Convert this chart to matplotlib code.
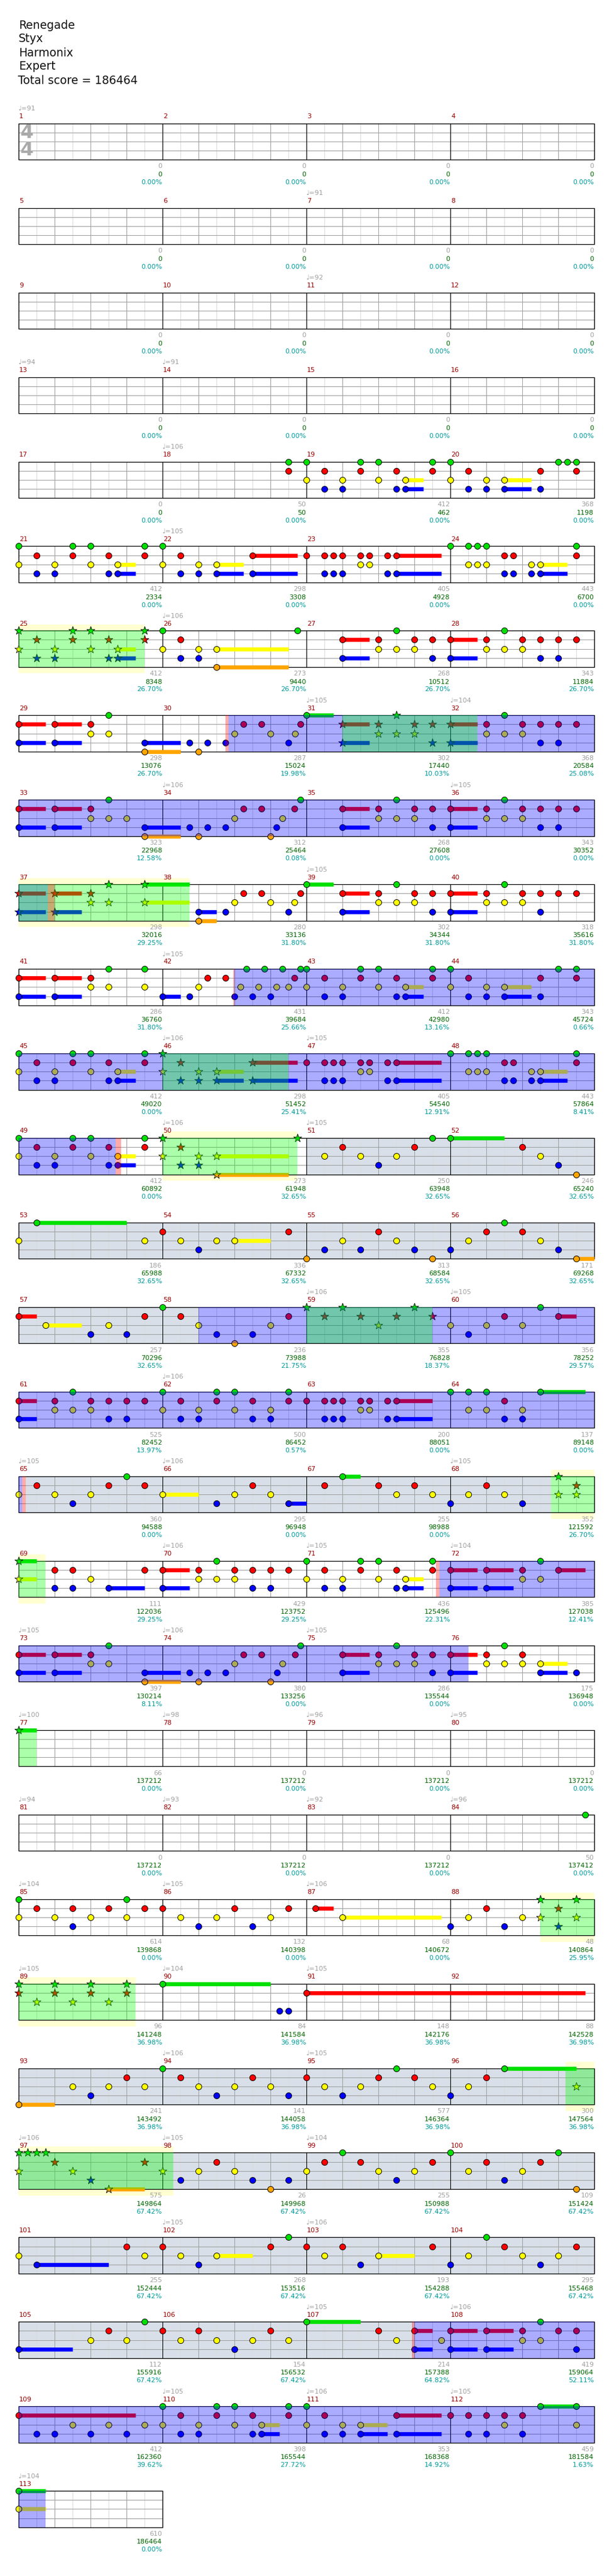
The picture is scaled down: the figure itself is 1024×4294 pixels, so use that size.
import matplotlib
matplotlib.use("Agg")
import matplotlib.pyplot as plt
from matplotlib.patches import Rectangle

plt.rcParams['font.family'] = ['DejaVu Sans']

# ---------------- data ----------------
SONG_INFO = ["Renegade", "Styx", "Harmonix", "Expert"]
TOTAL_SCORE = 186464
NUM_MEASURES = 113

TEMPO_MEASURE = [1, 7, 11, 13, 14, 18, 22, 26, 31, 32, 34, 36, 39, 42, 46, 47, 50, 51,
                 59, 60, 62, 65, 66, 68, 70, 71, 72, 73, 74, 75, 77, 78, 79, 80, 81,
                 82, 83, 84, 85, 86, 87, 89, 90, 91, 94, 95, 97, 98, 99, 102, 103,
                 107, 108, 110, 111, 112, 113]
TEMPO_BPM = [91, 91, 92, 94, 91, 106, 105, 106, 105, 104, 106, 105, 105, 105, 106, 105,
             106, 105, 106, 105, 106, 105, 106, 105, 106, 105, 104, 105, 106, 105, 100,
             98, 96, 95, 94, 93, 92, 96, 104, 105, 106, 105, 104, 105, 106, 105, 106,
             105, 104, 105, 106, 105, 106, 105, 106, 105, 104]

# notes: (measure, beat, lanes, sustain in beats)
NOTES_17_20 = [
    (18, 3.5, "GR", 0),
    (19, 0, "GY", 0), (19, 0.5, "RB", 0), (19, 1, "YB", 0), (19, 1.5, "GR", 0),
    (19, 2, "GY", 0), (19, 2.5, "RB", 0), (19, 2.75, "YB", 0.5), (19, 3.5, "GR", 0),
    (20, 0, "GY", 0), (20, 0.5, "RB", 0), (20, 1, "YB", 0), (20, 1.5, "YB", 0.75),
    (20, 2.5, "RB", 0), (20, 3, "G", 0), (20, 3.25, "G", 0), (20, 3.5, "GR", 0),
]
NOTES_21_24 = [
    (21, 0, "GY", 0), (21, 0.5, "RB", 0), (21, 1, "YB", 0), (21, 1.5, "GR", 0),
    (21, 2, "GY", 0), (21, 2.5, "RB", 0), (21, 2.75, "YB", 0.5), (21, 3.5, "GR", 0),
    (22, 0, "GY", 0), (22, 0.5, "RB", 0), (22, 1, "YB", 0), (22, 1.5, "YB", 0.75),
    (22, 2.5, "RB", 1.25),
    (23, 0, "R", 0), (23, 0.5, "RB", 0), (23, 0.75, "RB", 0), (23, 1, "RB", 0),
    (23, 1.5, "RY", 0), (23, 1.75, "RY", 0), (23, 2.25, "RB", 0), (23, 2.5, "RB", 1.25),
    (24, 0, "G", 0), (24, 0.5, "GY", 0), (24, 0.75, "GY", 0), (24, 1, "GY", 0),
    (24, 1.5, "RB", 0), (24, 1.75, "RB", 0), (24, 2.25, "YB", 0), (24, 2.5, "YB", 0.75),
    (24, 3.5, "GR", 0),
]
NOTES_25_28 = [
    (25, 0, "GY", 0), (25, 0.5, "RB", 0), (25, 1, "YB", 0), (25, 1.5, "GR", 0),
    (25, 2, "GY", 0), (25, 2.5, "RB", 0), (25, 2.75, "YB", 0.5), (25, 3.5, "GR", 0),
    (26, 0, "GY", 0), (26, 0.5, "RB", 0), (26, 1, "YB", 0), (26, 1.5, "YO", 2.0),
    (26, 3.75, "G", 0),
    (27, 1, "RB", 0.75), (27, 2, "RY", 0), (27, 2.5, "GY", 0), (27, 3, "RY", 0),
    (27, 3.5, "RB", 0),
    (28, 0, "RB", 0.75), (28, 1, "RY", 0), (28, 1.5, "GY", 0), (28, 2, "RY", 0),
    (28, 2.5, "RB", 0), (28, 3, "RB", 0), (28, 3.5, "R", 0),
]
NOTES_29_32 = [
    (29, 0, "RB", 0.75), (29, 1, "RB", 0.75), (29, 2, "RY", 0), (29, 2.5, "GY", 0),
    (29, 3.5, "BO", 1.0),
    (30, 0.75, "B", 0), (30, 1, "O", 0), (30, 1.25, "B", 0), (30, 1.75, "B", 0),
    (30, 2, "Y", 0), (30, 2.25, "R", 0), (30, 2.75, "R", 0), (30, 3, "Y", 0),
    (30, 3.5, "B", 0), (30, 3.67, "Y", 0), (30, 3.83, "R", 0),
    (31, 0, "G", 0.75), (31, 1, "RB", 0.75), (31, 2, "RY", 0), (31, 2.5, "GY", 0),
    (31, 3, "RY", 0), (31, 3.5, "RB", 0),
    (32, 0, "RB", 0.75), (32, 1, "RY", 0), (32, 1.5, "GY", 0), (32, 2, "RY", 0),
    (32, 2.5, "RB", 0), (32, 3, "RB", 0), (32, 3.5, "R", 0),
]
NOTES_33_36 = [
    (33, 0, "RB", 0.75), (33, 1, "RB", 0.75), (33, 2, "RY", 0), (33, 2.5, "GY", 0),
    (33, 3, "Y", 0), (33, 3.5, "BO", 1.0),
    (34, 0.75, "B", 0), (34, 1, "O", 0), (34, 1.25, "B", 0), (34, 1.75, "B", 0),
    (34, 2, "Y", 0), (34, 2.25, "R", 0), (34, 2.75, "R", 0), (34, 3, "O", 0),
    (34, 3.17, "B", 0), (34, 3.33, "Y", 0), (34, 3.67, "R", 0), (34, 3.83, "G", 0),
    (35, 1, "RB", 0.75), (35, 2, "RY", 0), (35, 2.5, "GY", 0), (35, 3, "RY", 0),
    (35, 3.5, "RB", 0),
    (36, 0, "RB", 0.75), (36, 1, "RY", 0), (36, 1.5, "GY", 0), (36, 2, "RY", 0),
    (36, 2.5, "RB", 0), (36, 3, "RB", 0), (36, 3.5, "R", 0),
]
NOTES_37_40 = [
    (37, 0, "RB", 0.75), (37, 1, "RB", 0.75), (37, 2, "RY", 0), (37, 2.5, "GY", 0),
    (37, 3.5, "GY", 1.25),
    (38, 1, "BO", 0.5), (38, 1.75, "B", 0), (38, 2, "Y", 0), (38, 2.25, "R", 0),
    (38, 2.75, "R", 0), (38, 3, "Y", 0), (38, 3.5, "B", 0), (38, 3.67, "Y", 0),
    (38, 3.83, "R", 0),
    (39, 0, "G", 0.75), (39, 1, "RB", 0.75), (39, 2, "RY", 0), (39, 2.5, "GY", 0),
    (39, 3, "RY", 0), (39, 3.5, "RB", 0),
    (40, 0, "RB", 0.75), (40, 1, "RY", 0), (40, 1.5, "GY", 0), (40, 2, "RY", 0),
    (40, 2.5, "RB", 0), (40, 3, "R", 0), (40, 3.5, "R", 0),
]
NOTES_41_44 = [
    (41, 0, "RB", 0.75), (41, 1, "RB", 0.75), (41, 2, "RY", 0), (41, 2.5, "GY", 0),
    (41, 3.5, "GY", 0),
    (42, 0, "B", 0.5), (42, 0.75, "B", 0), (42, 1, "Y", 0), (42, 1.25, "R", 0),
    (42, 1.75, "R", 0), (42, 2, "B", 0), (42, 2.17, "Y", 0), (42, 2.33, "G", 0),
    (42, 2.5, "B", 0), (42, 2.67, "Y", 0), (42, 2.83, "G", 0), (42, 3, "B", 0),
    (42, 3.17, "Y", 0), (42, 3.33, "G", 0), (42, 3.5, "Y", 0), (42, 3.67, "R", 0),
    (42, 3.83, "G", 0),
    (43, 0, "GY", 0), (43, 0.5, "RB", 0), (43, 1, "YB", 0), (43, 1.5, "GR", 0),
    (43, 2, "GY", 0), (43, 2.5, "RB", 0), (43, 2.75, "YB", 0.5), (43, 3.5, "GR", 0),
    (44, 0, "GY", 0), (44, 0.5, "RB", 0), (44, 1, "YB", 0), (44, 1.5, "YB", 0.75),
    (44, 2.5, "RB", 0), (44, 3, "G", 0), (44, 3.5, "GR", 0),
]
NOTES_45_48 = [
    (45, 0, "GY", 0), (45, 0.5, "RB", 0), (45, 1, "YB", 0), (45, 1.5, "GR", 0),
    (45, 2, "GY", 0), (45, 2.5, "RB", 0), (45, 2.75, "YB", 0.5), (45, 3.5, "GR", 0),
    (46, 0, "GY", 0), (46, 0.5, "RB", 0), (46, 1, "YB", 0), (46, 1.5, "YB", 0.75),
    (46, 2.5, "RB", 1.25),
    (47, 0, "R", 0), (47, 0.5, "RB", 0), (47, 0.75, "RB", 0), (47, 1, "RB", 0),
    (47, 1.5, "RY", 0), (47, 1.75, "RY", 0), (47, 2.25, "RB", 0), (47, 2.5, "RB", 1.25),
    (48, 0, "G", 0), (48, 0.5, "GY", 0), (48, 0.75, "GY", 0), (48, 1, "GY", 0),
    (48, 1.5, "RB", 0), (48, 1.75, "RB", 0), (48, 2.25, "YB", 0), (48, 2.5, "YB", 0.75),
    (48, 3.5, "GR", 0),
]
NOTES_49_52 = [
    (49, 0, "GY", 0), (49, 0.5, "RB", 0), (49, 1, "YB", 0), (49, 1.5, "GR", 0),
    (49, 2, "GY", 0), (49, 2.5, "RB", 0), (49, 2.75, "YB", 0.5), (49, 3.5, "GR", 0),
    (50, 0, "GY", 0), (50, 0.5, "RB", 0), (50, 1, "YB", 0), (50, 1.5, "YO", 2.0),
    (50, 3.75, "G", 0),
    (51, 0.5, "Y", 0), (51, 1, "R", 0), (51, 1.5, "Y", 0), (51, 2, "B", 0),
    (51, 2.5, "Y", 0), (51, 3, "R", 0), (51, 3.5, "G", 0),
    (52, 0, "G", 1.5), (52, 2, "R", 0), (52, 2.5, "Y", 0), (52, 3, "B", 0),
    (52, 3.5, "O", 0),
]
NOTES_53_56 = [
    (53, 0, "Y", 0), (53, 0.5, "G", 2.5), (53, 3.5, "Y", 0),
    (54, 0, "R", 0), (54, 0.5, "Y", 0), (54, 1, "B", 0), (54, 1.5, "Y", 0),
    (54, 2, "Y", 1.0), (54, 3.5, "R", 0),
    (55, 0, "O", 0), (55, 0.5, "B", 0), (55, 1, "Y", 0), (55, 1.5, "B", 0),
    (55, 2, "R", 0), (55, 2.5, "Y", 0), (55, 3, "B", 0), (55, 3.5, "O", 0),
    (56, 0, "B", 0), (56, 0.5, "Y", 0), (56, 1, "R", 0), (56, 1.5, "G", 0),
    (56, 2, "R", 0), (56, 2.5, "Y", 0), (56, 3, "B", 0), (56, 3.5, "O", 0.5),
]
NOTES_57_60 = [
    (57, 0, "R", 0.5), (57, 0.75, "Y", 1.0), (57, 2, "B", 0), (57, 2.5, "Y", 0),
    (57, 3, "B", 0), (57, 3.5, "R", 0),
    (58, 0, "G", 0), (58, 0.5, "R", 0), (58, 1, "Y", 0), (58, 1.5, "B", 0),
    (58, 2, "O", 0), (58, 2.5, "B", 0), (58, 3, "Y", 0), (58, 3.5, "R", 0),
    (59, 0, "G", 0), (59, 0.5, "R", 0), (59, 1, "G", 0), (59, 1.5, "R", 0),
    (59, 2, "Y", 0), (59, 2.5, "R", 0), (59, 3, "G", 0), (59, 3.5, "R", 0),
    (60, 0, "Y", 0), (60, 0.5, "B", 0), (60, 1, "Y", 0), (60, 1.5, "R", 0),
    (60, 2, "Y", 0), (60, 2.5, "G", 0), (60, 3, "R", 0.5),
]
NOTES_61_64 = [
    (61, 0, "RB", 0.5), (61, 1, "RY", 0), (61, 1.5, "GY", 0), (61, 2, "RY", 0),
    (61, 2.5, "RB", 0), (61, 3, "RB", 0), (61, 3.5, "R", 0),
    (62, 0, "GY", 0), (62, 0.5, "RB", 0), (62, 1, "YB", 0), (62, 1.5, "GR", 0),
    (62, 2, "GY", 0), (62, 2.5, "RB", 0), (62, 3, "YB", 0), (62, 3.5, "GR", 0),
    (63, 0, "R", 0), (63, 0.5, "RB", 0), (63, 0.75, "RB", 0), (63, 1, "RB", 0),
    (63, 1.5, "RY", 0), (63, 1.75, "RY", 0), (63, 2.25, "RB", 0), (63, 2.5, "RB", 1.0),
    (64, 0, "G", 0), (64, 0.5, "GY", 0), (64, 1, "GY", 0), (64, 1.5, "RB", 0),
    (64, 2, "YB", 0), (64, 2.5, "G", 1.25),
]
NOTES_65_68 = [
    (65, 0, "Y", 0), (65, 0.5, "R", 0), (65, 1, "Y", 0), (65, 1.5, "B", 0),
    (65, 2, "Y", 0), (65, 2.5, "R", 0), (65, 3, "G", 0), (65, 3.5, "R", 0),
    (66, 0, "Y", 1.0), (66, 1.5, "B", 0), (66, 2, "Y", 0), (66, 2.5, "R", 0),
    (66, 3, "Y", 0), (66, 3.5, "B", 0.5),
    (67, 0.5, "R", 0), (67, 1, "G", 0.5), (67, 2, "R", 0), (67, 2.5, "Y", 0),
    (67, 3, "R", 0), (67, 3.5, "Y", 0),
    (68, 0, "B", 0), (68, 0.5, "Y", 0), (68, 1, "R", 0), (68, 1.5, "Y", 0),
    (68, 2, "B", 0), (68, 3, "GY", 0), (68, 3.5, "RY", 0),
]
NOTES_69_72 = [
    (69, 0, "GY", 0.5), (69, 1, "RB", 0), (69, 1.5, "RB", 0), (69, 2, "Y", 0),
    (69, 2.5, "B", 1.0), (69, 3.5, "R", 0),
    (70, 0, "RB", 0.75), (70, 1, "RY", 0), (70, 1.5, "GY", 0), (70, 2, "RY", 0),
    (70, 2.5, "RB", 0), (70, 3, "RB", 0), (70, 3.5, "R", 0),
    (71, 0, "GY", 0), (71, 0.5, "RB", 0), (71, 1, "YB", 0), (71, 1.5, "GR", 0),
    (71, 2, "GY", 0), (71, 2.5, "RB", 0), (71, 2.75, "YB", 0.5), (71, 3.5, "GR", 0),
    (72, 0, "RB", 0.75), (72, 1, "RB", 0.75), (72, 2, "RY", 0), (72, 2.5, "GY", 0),
    (72, 3, "R", 0.75),
]
NOTES_73_76 = [
    (73, 0, "RB", 0.75), (73, 1, "RB", 0.75), (73, 2, "RY", 0), (73, 2.5, "GY", 0),
    (73, 3.5, "BO", 1.0),
    (74, 0.75, "B", 0), (74, 1, "O", 0), (74, 1.25, "B", 0), (74, 1.75, "B", 0),
    (74, 2, "Y", 0), (74, 2.25, "R", 0), (74, 2.75, "R", 0), (74, 3, "O", 0),
    (74, 3.17, "B", 0), (74, 3.33, "Y", 0), (74, 3.67, "R", 0), (74, 3.83, "G", 0),
    (75, 1, "RB", 0.75), (75, 2, "RY", 0), (75, 2.5, "GY", 0), (75, 3, "RY", 0),
    (75, 3.5, "RB", 0),
    (76, 0, "RB", 0.75), (76, 1, "RY", 0), (76, 1.5, "GY", 0), (76, 2, "RY", 0),
    (76, 2.5, "YB", 0.75), (76, 3.5, "B", 0),
]
NOTES_77_88 = [
    (77, 0, "G", 0.5),
    (84, 3.75, "G", 0),
    (85, 0, "GY", 0), (85, 0.5, "R", 0), (85, 1, "Y", 0), (85, 1.5, "RB", 0),
    (85, 2, "Y", 0), (85, 2.5, "R", 0), (85, 3, "GY", 0), (85, 3.5, "R", 0),
    (86, 0, "R", 0), (86, 0.5, "Y", 0), (86, 1, "B", 0), (86, 1.5, "Y", 0),
    (86, 2, "R", 0), (86, 2.5, "B", 0), (86, 3, "Y", 0), (86, 3.5, "R", 0),
    (87, 0.25, "R", 0.5), (87, 1, "Y", 2.75),
    (88, 0, "B", 0), (88, 0.5, "Y", 0), (88, 1, "R", 0), (88, 1.5, "B", 0),
    (88, 2, "Y", 0), (88, 2.5, "GY", 0), (88, 3, "RB", 0), (88, 3.5, "GY", 0),
]
NOTES_89_92 = [
    (89, 0, "GR", 0), (89, 0.5, "Y", 0), (89, 1, "GR", 0), (89, 1.5, "Y", 0),
    (89, 2, "GR", 0), (89, 2.5, "Y", 0), (89, 3, "GR", 0),
    (90, 0, "G", 3.0), (90, 3.25, "B", 0), (90, 3.5, "B", 0),
    (91, 0, "R", 7.75),
]
NOTES_93_96 = [
    (93, 0, "O", 1.0), (93, 1.5, "Y", 0), (93, 2, "B", 0), (93, 2.5, "Y", 0),
    (93, 3, "R", 0), (93, 3.5, "Y", 0),
    (94, 0, "G", 0), (94, 0.5, "R", 0), (94, 1, "Y", 0), (94, 1.5, "B", 0),
    (94, 2, "Y", 0), (94, 2.5, "R", 0), (94, 3, "Y", 0), (94, 3.5, "B", 0),
    (95, 0, "R", 0), (95, 0.5, "Y", 0), (95, 1, "B", 0), (95, 1.5, "Y", 0),
    (95, 2, "R", 0), (95, 2.5, "G", 0), (95, 3, "R", 0), (95, 3.5, "Y", 0),
    (96, 0, "B", 0), (96, 0.5, "Y", 0), (96, 1, "R", 0), (96, 1.5, "G", 2.0),
    (96, 3.5, "Y", 0),
]
NOTES_97_100 = [
    (97, 0, "GY", 0), (97, 0.25, "G", 0), (97, 0.5, "G", 0), (97, 0.75, "G", 0),
    (97, 1, "R", 0), (97, 1.5, "Y", 0), (97, 2, "B", 0), (97, 2.5, "O", 1.0),
    (97, 3.5, "R", 0),
    (98, 0, "Y", 0), (98, 0.5, "B", 0), (98, 1, "Y", 0), (98, 1.5, "R", 0),
    (98, 2, "Y", 0), (98, 2.5, "B", 0), (98, 3, "O", 0), (98, 3.5, "B", 0),
    (99, 0, "Y", 0), (99, 0.5, "R", 0), (99, 1, "G", 0), (99, 1.5, "R", 0),
    (99, 2, "Y", 0), (99, 2.5, "B", 0), (99, 3, "Y", 0), (99, 3.5, "R", 0),
    (100, 0, "G", 0), (100, 0.5, "Y", 0), (100, 1, "R", 0), (100, 1.5, "B", 0),
    (100, 2, "Y", 0), (100, 2.5, "R", 0), (100, 3, "G", 0), (100, 3.5, "O", 0),
]
NOTES_101_104 = [
    (101, 0, "Y", 0), (101, 0.5, "B", 2.0), (101, 3, "R", 0), (101, 3.5, "Y", 0),
    (102, 0, "R", 0), (102, 0.5, "Y", 0), (102, 1, "B", 0), (102, 1.5, "Y", 1.0),
    (102, 3, "R", 0), (102, 3.5, "G", 0),
    (103, 0, "R", 0), (103, 0.5, "Y", 0), (103, 1, "R", 0), (103, 1.5, "B", 0),
    (103, 2, "Y", 1.0), (103, 3.5, "R", 0),
    (104, 0, "B", 0), (104, 0.5, "Y", 0), (104, 1, "G", 0), (104, 1.5, "R", 0),
    (104, 2, "Y", 0), (104, 2.5, "B", 0), (104, 3, "Y", 0), (104, 3.5, "R", 0),
]
NOTES_105_108 = [
    (105, 0, "B", 1.5), (105, 2, "Y", 0), (105, 2.5, "R", 0), (105, 3, "Y", 0),
    (105, 3.5, "G", 0),
    (106, 0, "R", 0), (106, 0.5, "Y", 0), (106, 1, "R", 0), (106, 1.5, "Y", 0),
    (106, 2, "B", 0), (106, 2.5, "Y", 0), (106, 3, "R", 0), (106, 3.5, "Y", 0),
    (107, 0, "G", 1.5), (107, 2, "R", 0), (107, 2.5, "Y", 0), (107, 3, "RB", 0.5),
    (107, 3.75, "Y", 0),
    (108, 0, "RB", 0.75), (108, 1, "RB", 0.75), (108, 2, "RY", 0), (108, 2.5, "GY", 0),
    (108, 3, "R", 0), (108, 3.5, "RB", 0),
]
NOTES_109_113 = [
    (109, 0, "R", 3.25), (109, 0.5, "B", 0), (109, 1, "B", 0), (109, 1.5, "Y", 0),
    (109, 2, "B", 0), (109, 2.5, "Y", 0), (109, 3, "B", 0), (109, 3.5, "Y", 0),
    (110, 0, "GY", 0), (110, 0.5, "RB", 0), (110, 1, "YB", 0), (110, 1.5, "GR", 0),
    (110, 2, "GY", 0), (110, 2.5, "RB", 0), (110, 2.75, "YB", 0.5), (110, 3.5, "GR", 0),
    (111, 0, "GY", 0), (111, 0.5, "RB", 0), (111, 1, "YB", 0), (111, 1.5, "YB", 0.75),
    (111, 2.5, "RB", 1.25),
    (112, 0, "R", 0), (112, 0.5, "RB", 0), (112, 1, "RB", 0), (112, 1.5, "RY", 0),
    (112, 2, "RB", 0), (112, 2.5, "G", 1.0), (112, 3.5, "GY", 0),
    (113, 0, "GY", 0.75),
]
NOTE_BLOCKS = [NOTES_17_20, NOTES_21_24, NOTES_25_28, NOTES_29_32, NOTES_33_36,
               NOTES_37_40, NOTES_41_44, NOTES_45_48, NOTES_49_52, NOTES_53_56,
               NOTES_57_60, NOTES_61_64, NOTES_65_68, NOTES_69_72, NOTES_73_76,
               NOTES_77_88, NOTES_89_92, NOTES_93_96, NOTES_97_100, NOTES_101_104,
               NOTES_105_108, NOTES_109_113]

# regions: ((measure, beat), (measure, beat))
STAR_PHRASES = [((25, 0), (25, 3.5)), ((31, 1), (32, 0.75)), ((37, 0), (38, 0.75)),
                ((46, 0), (46, 3.5)), ((50, 0), (50, 3.75)), ((59, 0), (59, 3.5)),
                ((68, 2.8), (69, 0.75)), ((77, 0), (77, 0.5)), ((88, 2.5), (89, 3.25)),
                ((96, 3.2), (98, 0.3))]
YELLOW_BANDS = [((25, 0), (25, 3.5)), ((37, 0), (38, 0.75)), ((50, 0), (50, 3.75)),
                ((68, 2.8), (69, 0.75)), ((88, 2.5), (89, 3.25)), ((96, 3.2), (98, 0.3))]
ACTIVATIONS = [((30, 1.83), (37, 0.82)), ((42, 2.0), (49, 2.7)), ((58, 1.0), (65, 0.1)),
               ((71, 3.7), (76, 0.5)), ((107, 3.0), (113, 0.75))]
RED_MARKS = [((30, 1.75), (30, 1.83)), ((37, 0.82), (37, 1.0)), ((42, 1.96), (42, 2.0)),
             ((49, 2.7), (49, 2.85)), ((65, 0.1), (65, 0.2)), ((71, 3.6), (71, 3.7)),
             ((107, 2.92), (107, 3.0))]
SOLO_SECTIONS = [((51, 0), (58, 1.0)), ((65, 0.2), (68, 2.8)), ((93, 0), (107, 3.0))]

MEASURE_SCORE = [0, 0, 0, 0, 0, 0, 0, 0, 0, 0, 0, 0, 0, 0, 0, 0,
                 0, 50, 412, 368, 412, 298, 405, 443, 412, 273, 268, 343,
                 298, 287, 302, 368, 323, 312, 268, 343, 298, 280, 302, 318,
                 286, 431, 412, 343, 412, 298, 405, 443, 412, 273, 250, 246,
                 186, 336, 313, 171, 257, 236, 355, 356, 525, 500, 200, 137,
                 360, 295, 255, 352, 111, 429, 436, 385, 397, 380, 286, 175,
                 66, 0, 0, 0, 0, 0, 0, 50, 614, 132, 68, 48, 96, 84, 148, 88,
                 241, 141, 577, 300, 575, 26, 255, 109, 255, 268, 193, 295,
                 112, 154, 214, 419, 412, 398, 353, 459, 610]
CUMULATIVE = [0, 0, 0, 0, 0, 0, 0, 0, 0, 0, 0, 0, 0, 0, 0, 0,
              0, 50, 462, 1198, 2334, 3308, 4928, 6700, 8348, 9440, 10512, 11884,
              13076, 15024, 17440, 20584, 22968, 25464, 27608, 30352, 32016, 33136,
              34344, 35616, 36760, 39684, 42980, 45724, 49020, 51452, 54540, 57864,
              60892, 61948, 63948, 65240, 65988, 67332, 68584, 69268, 70296, 73988,
              76828, 78252, 82452, 86452, 88051, 89148, 94588, 96948, 98988, 121592,
              122036, 123752, 125496, 127038, 130214, 133256, 135544, 136948,
              137212, 137212, 137212, 137212, 137212, 137212, 137212, 137412,
              139868, 140398, 140672, 140864, 141248, 141584, 142176, 142528,
              143492, 144058, 146364, 147564, 149864, 149968, 150988, 151424,
              152444, 153516, 154288, 155468, 155916, 156532, 157388, 159064,
              162360, 165544, 168368, 181584, 186464]
PERCENT = (["0.00%"] * 24 +
           ["26.70%", "26.70%", "26.70%", "26.70%", "26.70%", "19.98%", "10.03%", "25.08%",
            "12.58%", "0.08%", "0.00%", "0.00%", "29.25%", "31.80%", "31.80%", "31.80%",
            "31.80%", "25.66%", "13.16%", "0.66%", "0.00%", "25.41%", "12.91%", "8.41%",
            "0.00%", "32.65%", "32.65%", "32.65%", "32.65%", "32.65%", "32.65%", "32.65%",
            "32.65%", "21.75%", "18.37%", "29.57%", "13.97%", "0.57%", "0.00%", "0.00%",
            "0.00%", "0.00%", "0.00%", "26.70%", "29.25%", "29.25%", "22.31%", "12.41%",
            "8.11%", "0.00%", "0.00%", "0.00%", "0.00%", "0.00%", "0.00%", "0.00%",
            "0.00%", "0.00%", "0.00%", "0.00%", "0.00%", "0.00%", "0.00%", "25.95%",
            "36.98%", "36.98%", "36.98%", "36.98%", "36.98%", "36.98%", "36.98%", "36.98%",
            "67.42%", "67.42%", "67.42%", "67.42%", "67.42%", "67.42%", "67.42%", "67.42%",
            "67.42%", "67.42%", "64.82%", "52.11%", "39.62%", "27.72%", "14.92%", "1.63%",
            "0.00%"])

# ---------------- layout ----------------
X0 = 31.3
MW = 240.0
QW = MW / 4
Y0 = 205.7
RP = 140.95
LANE = 15.1
LANE_IDX = {"G": 0, "R": 1, "Y": 2, "B": 3, "O": 4}
LANE_COL = {"G": "#00e000", "R": "#ff0000", "Y": "#ffff00", "B": "#0000ff", "O": "#ffa500"}

fig = plt.figure(figsize=(10.24, 42.94), dpi=100)
ax = fig.add_axes([0, 0, 1, 1])
ax.set_xlim(0, 1024)
ax.set_ylim(4294, 0)
ax.axis('off')


def gbeat(m, b):
    return (m - 1) * 4 + b


def pos(g):
    r = int(g // 16)
    x = X0 + (g - r * 16) * QW
    return r, x


def ytop(r):
    return Y0 + r * RP


def segments(g0, g1):
    out = []
    g = g0
    while g < g1 - 1e-9:
        r = int(g // 16)
        end = min(g1, (r + 1) * 16)
        out.append((r, X0 + (g - r * 16) * QW, X0 + (end - r * 16) * QW))
        g = end
    return out


def in_ranges(g, ranges):
    for a, b in ranges:
        if gbeat(*a) - 1e-6 <= g <= gbeat(*b) + 1e-6:
            return True
    return False


# header
for i, t in enumerate(SONG_INFO + ["Total score = %d" % TOTAL_SCORE]):
    ax.text(31 if i < 4 else 29.5, 42 + i * 23, t, fontsize=13.5, va='center',
            ha='left', color='#111111')

n_rows = (NUM_MEASURES + 3) // 4
for r in range(n_rows):
    m_first = r * 4 + 1
    nm = min(4, NUM_MEASURES - r * 4)
    yt = ytop(r)
    yb = yt + 4 * LANE
    xl, xr = X0, X0 + nm * MW
    ax.add_patch(Rectangle((xl, yt), xr - xl, yb - yt, facecolor='white', edgecolor='none', zorder=0.5))
    for k in range(nm * 8 + 1):
        x = X0 + k * QW / 2
        if k % 8 == 0:
            ax.plot([x, x], [yt, yb], color='black', lw=0.8, zorder=1.3)
        elif k % 2 == 0:
            ax.plot([x, x], [yt, yb], color='#a0a0a0', lw=0.75, zorder=1.1)
        else:
            ax.plot([x, x], [yt, yb], color='#dcdcdc', lw=0.75, zorder=1.0)
    for j in range(1, 4):
        ax.plot([xl, xr], [yt + j * LANE, yt + j * LANE], color='#a0a0a0', lw=0.75, zorder=1.2)
    ax.add_patch(Rectangle((xl, yt), xr - xl, yb - yt, facecolor='none', edgecolor='black', lw=0.9, zorder=1.4))
    for k in range(nm):
        m = m_first + k
        xm = X0 + k * MW
        ax.text(xm + 1, yt - 11.7, str(m), color='#990000', fontsize=8, ha='left', va='center')
        idx = m - 1
        if idx < len(MEASURE_SCORE):
            xe = xm + MW - 1
            ax.text(xe, yb + 11.4, str(MEASURE_SCORE[idx]), color='#a0a0a0', fontsize=8, ha='right', va='center')
            ax.text(xe, yb + 24.7, str(CUMULATIVE[idx]), color='#006400', fontsize=8, ha='right', va='center')
            ax.text(xe, yb + 37.7, PERCENT[idx], color='#009999', fontsize=8, ha='right', va='center')

# time signature
ax.text(X0 + 13, ytop(0) + 15.5, "4", fontsize=23, color='#aaaaaa', ha='center', va='center', fontweight='bold')
ax.text(X0 + 13, ytop(0) + 45, "4", fontsize=23, color='#aaaaaa', ha='center', va='center', fontweight='bold')

# tempos
for m, bpm in zip(TEMPO_MEASURE, TEMPO_BPM):
    r, x = pos(gbeat(m, 0))
    ax.text(x - 1, ytop(r) - 24.7, "\u2669=%d" % bpm, color='#a0a0a0', fontsize=8, ha='left', va='center')

# yellow bands
for a, b in YELLOW_BANDS:
    for r, x0, x1 in segments(gbeat(*a), gbeat(*b)):
        ax.add_patch(Rectangle((x0, ytop(r) - 10.7), x1 - x0, 4 * LANE + 21.4,
                               facecolor='#ffffd2', edgecolor='none', zorder=0.2))

# solo sections (light background in the staff)
for a, b in SOLO_SECTIONS:
    for r, x0, x1 in segments(gbeat(*a), gbeat(*b)):
        ax.add_patch(Rectangle((x0, ytop(r)), x1 - x0, 4 * LANE,
                               facecolor='#d8dfe8', edgecolor='none', zorder=0.6))

# notes and sustains
for block in NOTE_BLOCKS:
    for m, b, lanes, sus in block:
        g = gbeat(m, b)
        star = in_ranges(g, STAR_PHRASES)
        r, x = pos(g)
        for ln in lanes:
            dy = LANE_IDX[ln] * LANE
            if sus > 0:
                for rr, s0, s1 in segments(g, g + sus):
                    ax.plot([s0, s1], [ytop(rr) + dy] * 2, color=LANE_COL[ln], lw=4.8,
                            solid_capstyle='butt', zorder=2)
            if star:
                ax.scatter([x], [ytop(r) + dy], s=105, marker='*', facecolor=LANE_COL[ln],
                           edgecolor='black', linewidths=0.6, zorder=3)
            else:
                ax.scatter([x], [ytop(r) + dy], s=52, marker='o', facecolor=LANE_COL[ln],
                           edgecolor='black', linewidths=0.7, zorder=3)

# overlays
for ranges, col, z in [(ACTIVATIONS, (0, 0, 1), 4), (STAR_PHRASES, (0, 1, 0), 4.1),
                       (RED_MARKS, (1, 0, 0), 4.2)]:
    for a, b in ranges:
        for r, x0, x1 in segments(gbeat(*a), gbeat(*b)):
            ax.add_patch(Rectangle((x0, ytop(r)), x1 - x0, 4 * LANE, facecolor=col,
                                   alpha=0.33, edgecolor='none', zorder=z))

fig.savefig("out.png", dpi=100)
